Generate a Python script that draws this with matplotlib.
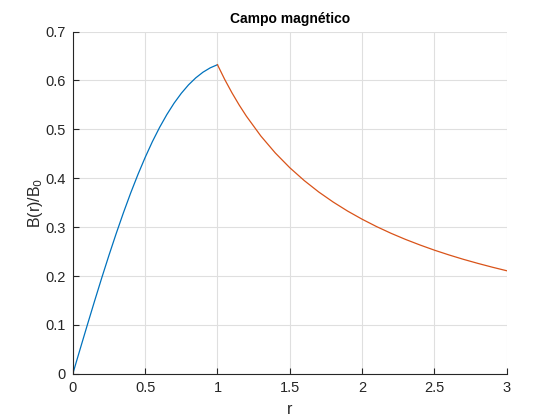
import matplotlib
matplotlib.use('Agg')
import matplotlib.pyplot as plt

# valores
r_dentro = [0, 0.05, 0.1, 0.15, 0.2, 0.25, 0.3, 0.35, 0.4, 0.45, 0.5,
            0.55, 0.6, 0.65, 0.7, 0.75, 0.8, 0.85, 0.9, 0.95, 1.0]
b_dentro = [0, 0.0499, 0.0995, 0.1483, 0.1961, 0.2424, 0.2869, 0.3294, 0.3697, 0.4074, 0.4424,
            0.4747, 0.5039, 0.5301, 0.5534, 0.5736, 0.5909, 0.6052, 0.6168, 0.6257, 0.6321]

r_fora = [1.0, 1.05, 1.1, 1.15, 1.2, 1.3, 1.4, 1.5, 1.6, 1.7, 1.8, 1.9, 2.0,
          2.1, 2.2, 2.3, 2.4, 2.5, 2.6, 2.7, 2.8, 2.9, 3.0]
b_fora = [0.6321, 0.6020, 0.5747, 0.5497, 0.5268, 0.4862, 0.4515, 0.4214, 0.3951, 0.3718,
          0.3512, 0.3327, 0.3161, 0.3010, 0.2873, 0.2748, 0.2634, 0.2528, 0.2431, 0.2341,
          0.2258, 0.2180, 0.2107]

xticks = [0, 0.5, 1, 1.5, 2, 2.5, 3]
xlabels = ['0', '0.5', '1', '1.5', '2', '2.5', '3']
yticks = [0, 0.1, 0.2, 0.3, 0.4, 0.5, 0.6, 0.7]
ylabels = ['0', '0.1', '0.2', '0.3', '0.4', '0.5', '0.6', '0.7']

plt.rcParams['font.family'] = ['Liberation Sans', 'DejaVu Sans']

fig = plt.figure(figsize=(5.6, 4.2), dpi=100)
ax = fig.add_axes([0.13, 0.11, 0.775, 0.815])

ax.plot(r_dentro, b_dentro, color='#0072BD', lw=0.9)
ax.plot(r_fora, b_fora, color='#D95319', lw=0.9)

ax.set_xlim(0, 3)
ax.set_ylim(0, 0.7)
ax.set_xticks(xticks, xlabels)
ax.set_yticks(yticks, ylabels)
ax.grid(True, color='#DFDFDF', lw=0.8)
ax.set_axisbelow(True)

for s in ['top', 'right']:
    ax.spines[s].set_visible(False)
for s in ['left', 'bottom']:
    ax.spines[s].set_color('#262626')
    ax.spines[s].set_linewidth(0.8)
ax.tick_params(direction='in', length=4, colors='#262626', labelsize=10.5, pad=5)

ax.set_title('Campo magnético', fontsize=10, fontweight='bold', color='#000000', pad=6)
ax.set_xlabel('r', fontsize=11.5, color='#262626', labelpad=5)
ax.set_ylabel('B(r)/B$_0$', fontsize=11.5, color='#262626', labelpad=0)

fig.savefig('out.png', dpi=100)
